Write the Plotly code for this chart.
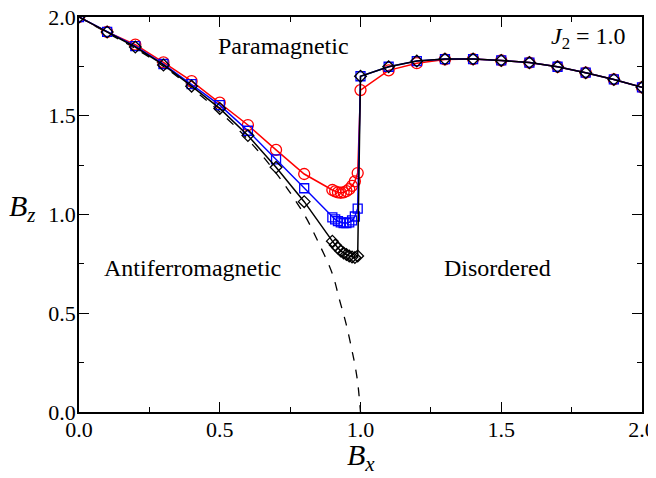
import plotly.graph_objects as go

# Data
bx_left = [0.0, 0.1, 0.2, 0.3, 0.4, 0.5, 0.6, 0.7, 0.8,
           0.90, 0.91, 0.92, 0.93, 0.94, 0.95, 0.96, 0.97, 0.98, 0.99]
bx_right = [1.0, 1.1, 1.2, 1.3, 1.4, 1.5, 1.6, 1.7, 1.8, 1.9, 2.0]

red_left = [2.0, 1.925, 1.86, 1.77, 1.675, 1.566, 1.453, 1.327, 1.205,
            1.124, 1.117, 1.112, 1.110, 1.112, 1.118, 1.128, 1.145, 1.168, 1.21]
red_right = [1.63, 1.73, 1.766, 1.785, 1.787, 1.78, 1.769, 1.748, 1.718, 1.684, 1.644]

blue_left = [2.0, 1.925, 1.853, 1.762, 1.66, 1.554, 1.424, 1.279, 1.133,
             0.985, 0.975, 0.966, 0.960, 0.957, 0.957, 0.960, 0.970, 0.990, 1.03]
blue_right = [1.70, 1.748, 1.777, 1.787, 1.787, 1.78, 1.769, 1.748, 1.718, 1.684, 1.644]

black_left = [2.0, 1.924, 1.848, 1.757, 1.65, 1.537, 1.40, 1.239, 1.065,
              0.865, 0.845, 0.830, 0.815, 0.805, 0.797, 0.790, 0.785, 0.782, 0.790]
black_right = [1.70, 1.748, 1.777, 1.787, 1.787, 1.78, 1.769, 1.748, 1.718, 1.684, 1.644]

dash_x = [0.0, 0.1, 0.2, 0.3, 0.4, 0.5, 0.6, 0.7, 0.8, 0.85, 0.9, 0.925,
          0.95, 0.97, 0.98, 0.99, 1.0]
dash_y = [2.0, 1.92, 1.84, 1.75, 1.64, 1.52, 1.38, 1.21, 1.00, 0.86, 0.70, 0.57,
          0.44, 0.31, 0.24, 0.15, 0.0]

x_ticks = [0.0, 0.5, 1.0, 1.5, 2.0]
y_ticks = [0.0, 0.5, 1.0, 1.5, 2.0]

FONT = "Liberation Serif, Times New Roman, Times, serif"

fig = go.Figure()

fig.add_trace(go.Scatter(x=dash_x, y=dash_y, mode="lines",
                         line=dict(color="black", width=1.3, dash="dash", shape="spline"),
                         showlegend=False))

series = [
    (red_left + red_right, "red", "circle-open", 11),
    (blue_left + blue_right, "blue", "square-open", 9),
    (black_left + black_right, "black", "diamond-open", 9),
]
for ys, col, sym, sz in series:
    fig.add_trace(go.Scatter(x=bx_left + bx_right, y=ys, mode="lines+markers",
                             line=dict(color=col, width=1.5),
                             marker=dict(symbol=sym, size=sz, color=col,
                                         line=dict(color=col, width=1.3)),
                             showlegend=False))

axis_common = dict(
    showgrid=False, zeroline=False, showline=True, linecolor="black", linewidth=1.5,
    mirror="allticks", ticks="inside", ticklen=10, tickwidth=1.2, tickcolor="black",
    tickfont=dict(family=FONT, size=22, color="black"), tickformat=".1f",
    automargin=False, ticklabeloverflow="allow",
    minor=dict(ticks="inside", ticklen=5, tickwidth=1.2, tickcolor="black", dtick=0.25),
)

fig.update_xaxes(range=[0, 2], tickvals=x_ticks, ticklabelstandoff=-3, **axis_common)
fig.update_yaxes(range=[0, 2], tickvals=y_ticks, ticklabelstandoff=-3, **axis_common)

ann_font = dict(family=FONT, size=24, color="black")
fig.add_annotation(x=0.728, y=1.853, text="Paramagnetic", showarrow=False, font=ann_font)
fig.add_annotation(x=0.403, y=0.729, text="Antiferromagnetic", showarrow=False, font=ann_font)
fig.add_annotation(x=1.485, y=0.729, text="Disordered", showarrow=False, font=ann_font)
fig.add_annotation(x=1.95, y=1.894, text="<i>J</i><sub>2</sub> = 1.0", showarrow=False,
                   xanchor="right", font=ann_font)

fig.add_annotation(xref="paper", yref="paper", x=0.5, y=-0.114, yanchor="middle",
                   text="<i>B</i><sub><i>x</i></sub>", showarrow=False,
                   font=dict(family=FONT, size=30, color="black"))
fig.add_annotation(xref="paper", yref="paper", x=-0.072, y=0.516, xanchor="right",
                   yanchor="middle",
                   text="<i>B</i><sub><i>z</i></sub>", showarrow=False,
                   font=dict(family=FONT, size=30, color="black"))

# page body has an 8px margin: offset the plot margins to compensate
fig.update_layout(
    width=656, height=478,
    margin=dict(l=71, r=22, t=9, b=74, autoexpand=False),
    font=dict(family=FONT, color="black"),
    plot_bgcolor="white", paper_bgcolor="white",
)

fig.write_html("out.html")
